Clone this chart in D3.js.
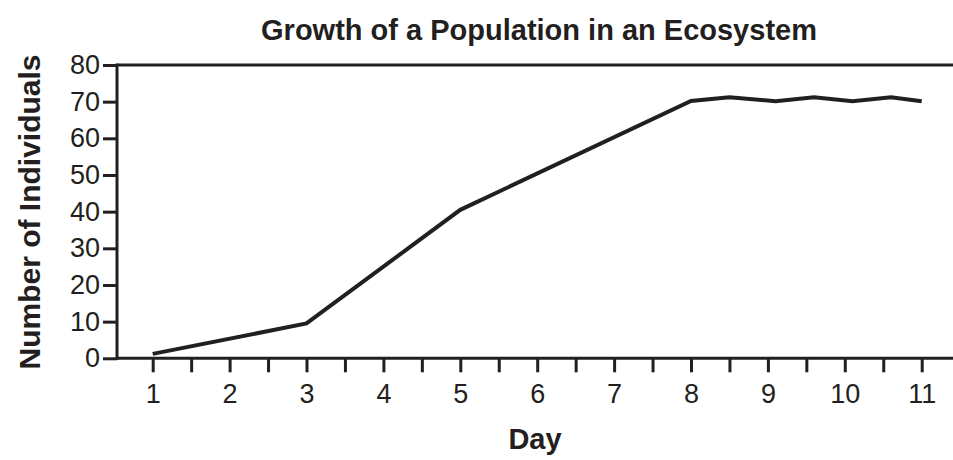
<html>
<head>
<meta charset="utf-8">
<script src="https://d3js.org/d3.v7.min.js"></script>
<style>
  body { margin: 0; background: #fff; }
  text { font-family: "Liberation Sans", Arial, sans-serif; fill: #231f20; }
</style>
</head>
<body>
<div id="chart"></div>
<script>
// data
const days = [1, 3, 5, 8, 8.5, 9.1, 9.6, 10.1, 10.6, 11];
const individuals = [1.2, 9.5, 40.5, 70.2, 71.2, 70.1, 71.2, 70.1, 71.2, 70.1];
const dayLabels = [1, 2, 3, 4, 5, 6, 7, 8, 9, 10, 11];
const yTicks = [0, 10, 20, 30, 40, 50, 60, 70, 80];

const W = 953, H = 460;
const ink = "#231f20";

const svg = d3.select("#chart").append("svg")
  .attr("width", W).attr("height", H);

const x = d3.scaleLinear().domain([1, 11]).range([152.7, 921.7]);
const y = d3.scaleLinear().domain([0, 80]).range([358.3, 65]);
const x0 = 117, x1 = W;

// top frame line
svg.append("line")
  .attr("x1", x0).attr("x2", x1)
  .attr("y1", y(80)).attr("y2", y(80))
  .attr("stroke", ink).attr("stroke-width", 3);

// y axis
const yAxis = svg.append("g")
  .attr("transform", `translate(${x0},0)`)
  .call(d3.axisLeft(y).tickValues(yTicks).tickSize(14).tickPadding(3));
yAxis.select(".domain").remove();
yAxis.append("line").attr("y1", y(80) - 1.5).attr("y2", y(0) + 1.5)
  .attr("stroke", ink).attr("stroke-width", 3);
yAxis.selectAll(".tick line").attr("stroke", ink).attr("stroke-width", 3);
yAxis.selectAll(".tick text").style("font-size", "27px").attr("fill", ink);

// x axis, ticks every half day, labels on whole days
const xTicks = d3.range(1, 11.01, 0.5);
const xAxis = svg.append("g")
  .attr("transform", `translate(0,${y(0)})`)
  .call(d3.axisBottom(x).tickValues(xTicks).tickSize(14).tickPadding(12)
    .tickFormat(d => dayLabels.includes(d) ? d : ""));
xAxis.select(".domain").remove();
xAxis.append("line").attr("x1", x0).attr("x2", x1)
  .attr("stroke", ink).attr("stroke-width", 3);
xAxis.selectAll(".tick line").attr("stroke", ink).attr("stroke-width", 3);
xAxis.selectAll(".tick text").style("font-size", "27px").attr("fill", ink);

// population line
svg.append("path")
  .datum(days.map((d, i) => [d, individuals[i]]))
  .attr("fill", "none")
  .attr("stroke", ink)
  .attr("stroke-width", 4)
  .attr("stroke-linejoin", "miter")
  .attr("d", d3.line().x(d => x(d[0])).y(d => y(d[1])));

// titles
svg.append("text")
  .attr("x", 539).attr("y", 40)
  .attr("text-anchor", "middle")
  .style("font-size", "29px").style("font-weight", "bold")
  .text("Growth of a Population in an Ecosystem");

svg.append("text")
  .attr("x", 535).attr("y", 449)
  .attr("text-anchor", "middle")
  .style("font-size", "29px").style("font-weight", "bold")
  .text("Day");

svg.append("text")
  .attr("transform", `translate(40,212) rotate(-90)`)
  .attr("text-anchor", "middle")
  .style("font-size", "30px").style("font-weight", "bold")
  .text("Number of Individuals");
</script>
</body>
</html>
